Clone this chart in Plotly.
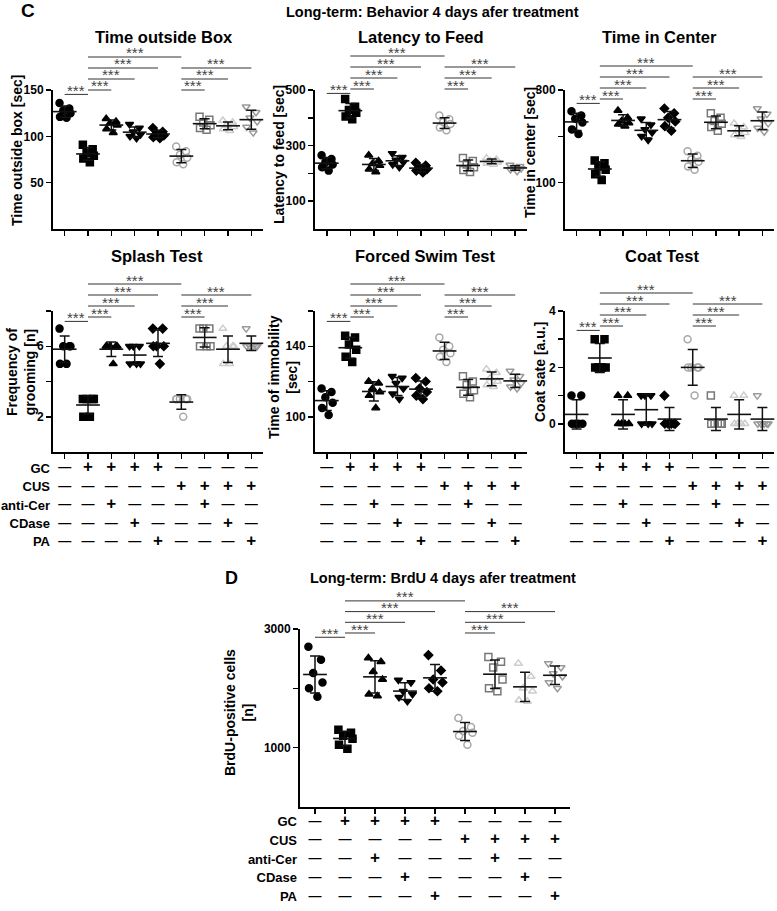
import numpy as np
import plotly.graph_objects as go

W, H = 777, 911
OFF = 0
FONT = "Liberation Sans, Arial, Helvetica, sans-serif"

# ---------------- data ----------------
groups = ["GC-", "GC", "GC+anti-Cer", "GC+CDase", "GC+PA",
          "CUS", "CUS+anti-Cer", "CUS+CDase", "CUS+PA"]

time_outside_box = [[136, 130, 128, 125, 121, 120], [91, 86, 82, 79, 76, 72],
                    [119, 116, 114, 112, 108, 104], [113, 109, 105, 102, 100, 98],
                    [109, 105, 103, 101, 99, 98], [89, 84, 80, 77, 72, 70],
                    [121, 118, 115, 112, 109, 107], [117, 115, 112, 110, 108, 106],
                    [132, 126, 120, 116, 110, 104]]
latency_to_feed = [[265, 252, 240, 232, 222, 210], [468, 440, 428, 418, 405, 395],
                   [265, 245, 235, 228, 215, 205], [272, 258, 248, 240, 232, 222],
                   [238, 228, 220, 215, 210, 203], [408, 395, 385, 378, 365, 355],
                   [255, 245, 232, 222, 212, 205], [255, 250, 245, 240, 236, 232],
                   [230, 226, 222, 218, 214, 208]]
time_in_center = [[254, 245, 238, 230, 215, 205], [148, 142, 135, 128, 118, 106],
                  [256, 240, 233, 229, 226, 222], [238, 225, 215, 208, 200, 192],
                  [260, 250, 240, 232, 222, 212], [168, 158, 150, 145, 135, 128],
                  [250, 240, 233, 227, 220, 212], [228, 220, 214, 208, 203, 199],
                  [260, 248, 238, 228, 218, 210]]
splash_grooming = [[7, 6, 6, 6, 5, 5], [3, 3, 3, 3, 2, 2], [6, 6, 6, 6, 6, 5],
                   [6, 6, 6, 5, 5, 5], [7, 7, 6, 6, 6, 5], [3, 3, 3, 3, 3, 2],
                   [7, 7, 7, 6, 6, 6], [7, 6, 6, 6, 5, 5], [7, 6, 6, 6, 6, 6]]
fst_immobility = [[116, 114, 111, 108, 105, 101], [146, 145, 141, 138, 134, 131],
                  [120, 119, 116, 114, 112, 105], [123, 122, 119, 116, 113, 110],
                  [122, 120, 116, 114, 112, 110], [145, 140, 138, 136, 134, 131],
                  [123, 120, 118, 115, 113, 111], [127, 125, 122, 120, 118, 117],
                  [126, 123, 121, 119, 117, 116]]
coat_state = [[1, 1, 0, 0, 0, 0], [3, 3, 2, 2, 2, 2], [1, 1, 0, 0, 0, 0],
              [1, 1, 1, 0, 0, 0], [1, 0, 0, 0, 0, 0], [3, 2, 2, 2, 2, 1],
              [1, 0, 0, 0, 0, 0], [1, 1, 0, 0, 0, 0], [1, 0, 0, 0, 0, 0]]
brdu_cells = [[2700, 2480, 2260, 2100, 2000, 1860], [1300, 1250, 1200, 1150, 1050, 980],
              [2510, 2450, 2280, 2150, 1900, 1870], [2140, 2100, 1950, 1900, 1850, 1780],
              [2560, 2300, 2150, 2100, 2000, 1950], [1500, 1350, 1280, 1250, 1200, 1050],
              [2530, 2450, 2350, 2150, 2000, 1950], [2420, 2200, 2000, 1950, 1800, 1780],
              [2420, 2350, 2250, 2200, 2100, 2000]]

row_labels = ["GC", "CUS", "anti-Cer", "CDase", "PA"]
cond_gc = ["—", "+", "+", "+", "+", "—", "—", "—", "—"]
cond_cus = ["—", "—", "—", "—", "—", "+", "+", "+", "+"]
cond_anticer = ["—", "—", "+", "—", "—", "—", "+", "—", "—"]
cond_cdase = ["—", "—", "—", "+", "—", "—", "—", "+", "—"]
cond_pa = ["—", "—", "—", "—", "+", "—", "—", "—", "+"]
conditions = [cond_gc, cond_cus, cond_anticer, cond_cdase, cond_pa]

# significance comparisons (group a, group b, bracket level) - all ***
comparisons = [(1, 2, -0.4), (2, 3, 0), (2, 4, 1), (2, 5, 2), (2, 6, 3),
               (6, 7, 0), (6, 8, 1), (6, 9, 2)]

# ---------------- styles ----------------
symbols = ["circle", "square", "triangle-up", "triangle-down", "diamond",
           "circle-open", "square-open", "triangle-up-open", "triangle-down-open"]
mcolors = ["#000000"] * 5 + ["#a8a8a8", "#787878", "#cdcdcd", "#9a9a9a"]
msizes = [7, 7, 7, 7, 6.5, 7, 7, 7, 7]
jitter = [-0.22, 0.2, -0.06, 0.25, -0.2, 0.08]


def dx(p):
    return (p - OFF) / W


def dy(p):
    return 1 - (p - OFF) / H


panels = [
    dict(title="Time outside Box", ytitle="Time outside box [sec]", data=time_outside_box,
         rng=[0, 150], tv=[50, 100, 150], tt=["50", "100", "150"],
         box=(53, 263, 90, 229), base=90, sp=11, tx=164, ty=37, yshift=-36, ycen=150),
    dict(title="Latency to Feed", ytitle="Latency to feed [sec]", data=latency_to_feed,
         rng=[0, 500], tv=[100, 200, 300, 400, 500], tt=["100", "", "300", "", "500"],
         box=(315, 527, 90, 229), base=89, sp=11, tx=421, ty=37, yshift=-36, ycen=155),
    dict(title="Time in Center", ytitle="Time in center [sec]", data=time_in_center,
         rng=[0, 300], tv=[100, 200, 300], tt=["100", "", "300"],
         box=(565, 774, 90, 229), base=99, sp=11, tx=659, ty=37, yshift=-35, ycen=153),
    dict(title="Splash Test", ytitle="Frequency of<br>grooming [n]", data=splash_grooming,
         rng=[0, 8], tv=[2, 4, 6, 8], tt=["2", "", "6", ""],
         box=(53, 263, 311, 452), base=317, sp=11, tx=157, ty=256, yshift=-32, ycen=372),
    dict(title="Forced Swim Test", ytitle="Time of immobility<br>[sec]", data=fst_immobility,
         rng=[80, 160], tv=[100, 120, 140, 160], tt=["100", "", "140", ""],
         box=(315, 527, 311, 452), base=317, sp=11, tx=425, ty=256, yshift=-32, ycen=377),
    dict(title="Coat Test", ytitle="Coat sate [a.u.]", data=coat_state,
         rng=[-1, 4], tv=[0, 1, 2, 3, 4], tt=["0", "", "2", "", "4"],
         box=(565, 774, 311, 452), base=326, sp=11, tx=662, ty=256, yshift=-25, ycen=372),
    dict(title=None, ytitle="BrdU-positive cells<br>[n]", data=brdu_cells,
         rng=[0, 3000], tv=[1000, 2000, 3000], tt=["1000", "", "3000"],
         box=(300, 570, 629, 807), base=633, sp=10.7, tx=None, ty=None, yshift=-61, ycen=713),
]

# tables: (panel index to align with, top px, bottom px, show labels)
tables = [(3, 459, 551, True), (4, 459, 551, False), (5, 459, 551, False),
          (6, 812, 906, True)]

fig = go.Figure()
layout = {}
annotations = []
xg = np.arange(1, 10)
NP = len(panels)


def ax_name(kind, i):
    return kind + ("" if i == 1 else str(i))


for pi, p in enumerate(panels):
    i = pi + 1
    x0, x1, ytop, ybot = p["box"]
    xa, ya = ax_name("x", i), ax_name("y", i)
    layout[ax_name("xaxis", i)] = dict(
        domain=[dx(x0), dx(x1)], range=[0.5, 9.5], anchor=ya,
        showline=True, linecolor="black", linewidth=2, showgrid=False, zeroline=False,
        tickvals=list(xg), ticktext=[""] * 9, ticks="outside", ticklen=5, tickwidth=1.5,
        tickcolor="black", showticklabels=False, fixedrange=True)
    layout[ax_name("yaxis", i)] = dict(
        domain=[dy(ybot), dy(ytop)], range=p["rng"], anchor=xa,
        showline=True, linecolor="black", linewidth=2, showgrid=False, zeroline=False,
        tickvals=p["tv"], ticktext=p["tt"], ticks="outside", ticklen=5, tickwidth=1.5,
        tickcolor="black", tickfont=dict(family=FONT, size=12, color="black", weight="bold"),
        fixedrange=True)
    # data points + mean/SD
    for g, vals in enumerate(p["data"]):
        v = np.array(sorted(vals, reverse=True), dtype=float)
        xs = (g + 1) + np.array(jitter[:len(v)])
        fig.add_trace(go.Scatter(
            x=xs, y=v, mode="markers", xaxis=xa, yaxis=ya, showlegend=False,
            marker=dict(symbol=symbols[g], size=msizes[g], color=mcolors[g],
                        line=dict(color=mcolors[g], width=1.5)),
            cliponaxis=False))
        m = float(np.mean(v))
        sd = float(np.std(v, ddof=1))
        fig.add_trace(go.Scatter(
            x=[g + 1], y=[m], mode="markers", xaxis=xa, yaxis=ya, showlegend=False,
            marker=dict(symbol="line-ew", size=17, color="black",
                        line=dict(color="#111111", width=1.6)),
            error_y=dict(type="data", array=[sd], visible=True, color="#111111",
                         thickness=1.5, width=5),
            cliponaxis=False))
    # y title
    annotations.append(dict(
        text="<b>" + p["ytitle"] + "</b>", xref=xa + " domain", yref="paper",
        x=0, y=dy(p["ycen"]), xshift=p["yshift"], xanchor="center", yanchor="middle",
        textangle=-90, showarrow=False,
        font=dict(family=FONT, size=14, color="black")))
    if p["title"]:
        annotations.append(dict(
            text="<b>" + p["title"] + "</b>", xref="paper", yref="paper",
            x=dx(p["tx"]), y=dy(p["ty"]), xanchor="center", yanchor="middle",
            showarrow=False, font=dict(family=FONT, size=16.5, color="black")))

    # bracket subplot
    bi = NP + i
    bxa, bya = ax_name("x", bi), ax_name("y", bi)
    base, sp = p["base"], p["sp"]
    layout[ax_name("xaxis", bi)] = dict(domain=[dx(x0), dx(x1)], range=[0.5, 9.5],
                                        anchor=bya, visible=False, fixedrange=True)
    layout[ax_name("yaxis", bi)] = dict(domain=[dy(base + 0.7 * sp), dy(base - 4.4 * sp)],
                                        range=[-0.7, 4.4], anchor=bxa, visible=False,
                                        fixedrange=True)
    for a, b, lev in comparisons:
        fig.add_trace(go.Scatter(
            x=[a, b], y=[lev, lev], mode="lines", xaxis=bxa, yaxis=bya,
            showlegend=False, line=dict(color="#333333", width=1)))
        annotations.append(dict(
            text="***", xref=bxa, yref=bya, x=(a + b) / 2, y=lev, yshift=4,
            xanchor="center", yanchor="middle", showarrow=False,
            font=dict(family=FONT, size=15, color="#444444")))

# condition tables
for ti, (pidx, ttop, tbot, labels) in enumerate(tables):
    i = 2 * NP + ti + 1
    x0, x1 = panels[pidx]["box"][0], panels[pidx]["box"][1]
    xa, ya = ax_name("x", i), ax_name("y", i)
    layout[ax_name("xaxis", i)] = dict(domain=[dx(x0), dx(x1)], range=[0.5, 9.5],
                                       anchor=ya, visible=False, fixedrange=True)
    layout[ax_name("yaxis", i)] = dict(
        domain=[dy(tbot), dy(ttop)], range=[4.5, -0.5], anchor=xa,
        showline=False, showgrid=False, zeroline=False, ticks="",
        tickvals=list(range(5)), ticktext=row_labels if labels else [""] * 5,
        showticklabels=labels, ticklabelstandoff=2,
        tickfont=dict(family=FONT, size=13, color="black", weight="bold"),
        fixedrange=True)
    for r, row in enumerate(conditions):
        fig.add_trace(go.Scatter(
            x=list(xg), y=[r] * 9, text=row, mode="text", xaxis=xa, yaxis=ya,
            showlegend=False, cliponaxis=False, hoverinfo="skip",
            textfont=dict(family=FONT, color="black", weight="bold",
                          size=[17 if s == "+" else 13 for s in row])))

# headings
annotations += [
    dict(text="<b>C</b>", x=dx(28), y=dy(10), font=dict(size=19)),
    dict(text="<b>Long-term: Behavior 4 days afer treatment</b>", x=dx(432), y=dy(12),
         font=dict(size=14.5)),
    dict(text="<b>D</b>", x=dx(231), y=dy(578), font=dict(size=18)),
    dict(text="<b>Long-term: BrdU 4 days afer treatment</b>", x=dx(443), y=dy(578),
         font=dict(size=14.5)),
]
for a in annotations[-4:]:
    a.update(xref="paper", yref="paper", xanchor="center", yanchor="middle",
             showarrow=False)
    a["font"].update(family=FONT, color="black")

fig.update_layout(
    width=W, height=H, margin=dict(l=0, r=0, t=0, b=0, autoexpand=False),
    paper_bgcolor="white", plot_bgcolor="rgba(0,0,0,0)",
    font=dict(family=FONT, color="black"), annotations=annotations,
    showlegend=False, hovermode=False, **layout)

# remove the browser's default 8px page margin so the figure fills the window
fig.write_html("out.html", config={"displayModeBar": False, "staticPlot": True},
               post_script="document.body.style.margin='0';document.body.style.overflow='hidden';")
